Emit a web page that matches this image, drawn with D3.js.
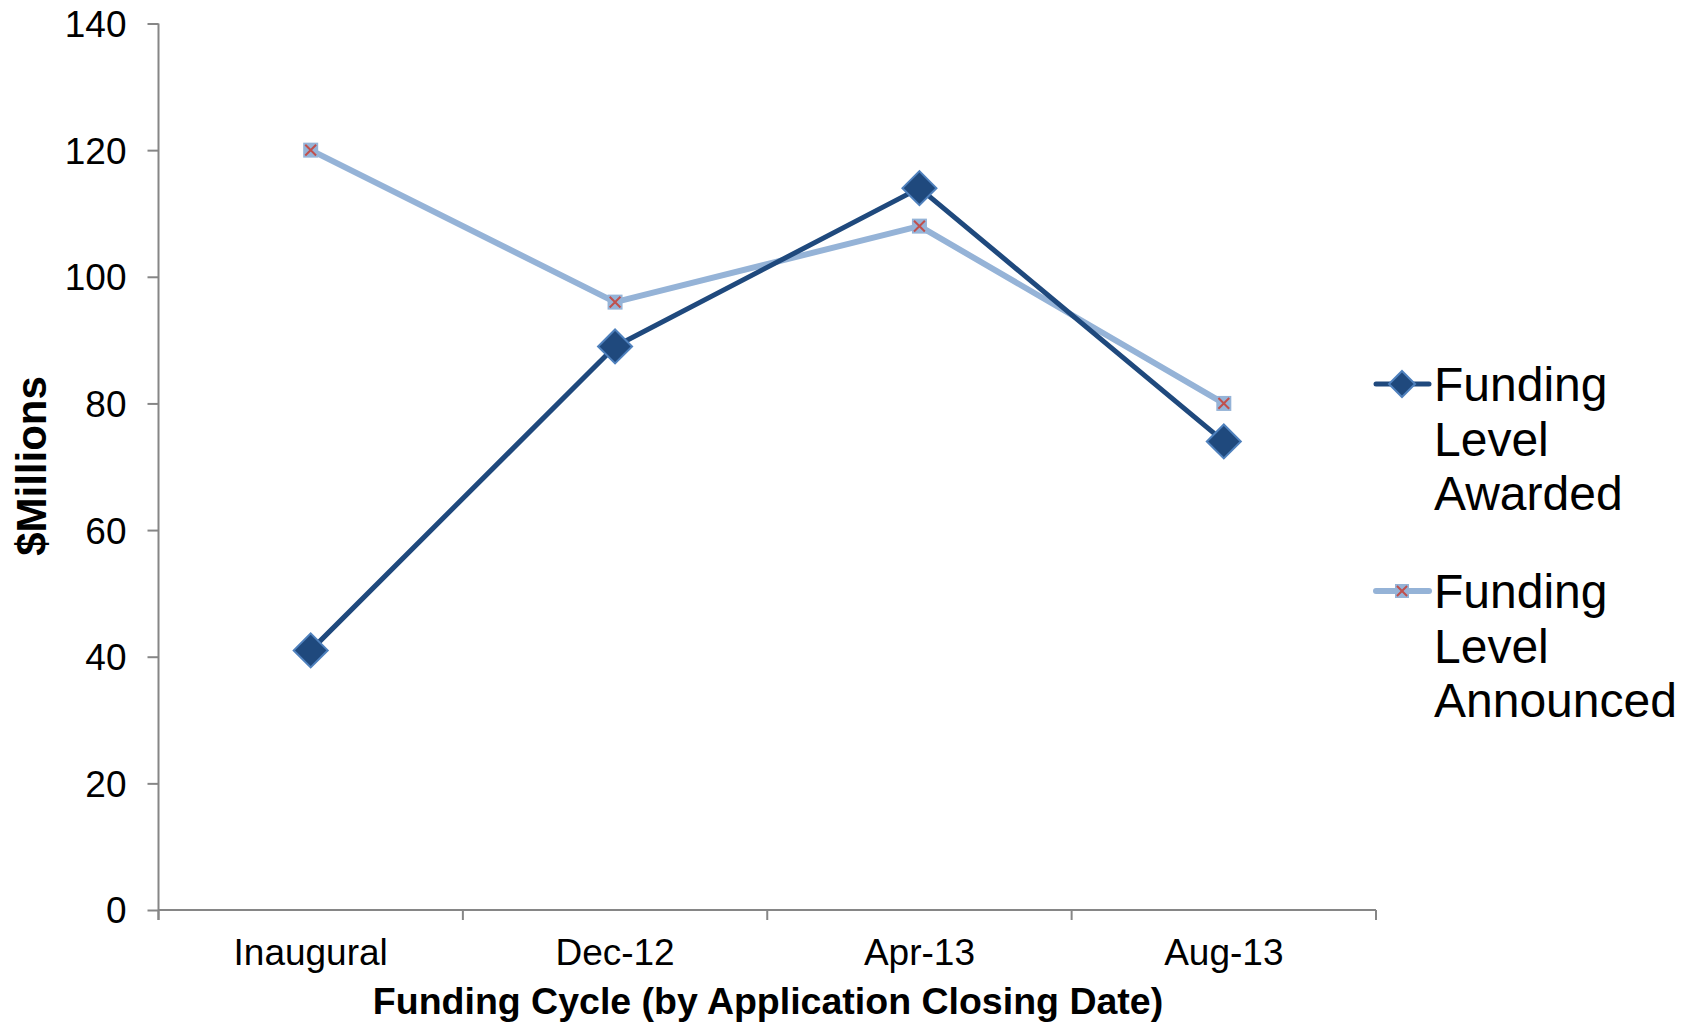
<!DOCTYPE html>
<html>
<head>
<meta charset="utf-8">
<script src="https://cdn.jsdelivr.net/npm/d3@7"></script>
<style>
  body { margin: 0; background: #fff; }
  text { font-family: "Liberation Sans", Arial, sans-serif; fill: #000; }
</style>
</head>
<body>
<div id="chart"></div>
<script>
// data
const cycles = ['Inaugural', 'Dec-12', 'Apr-13', 'Aug-13']
const awarded = [41, 89, 114, 74]
const announced = [120, 96, 108, 80]
const yTicks = [0, 20, 40, 60, 80, 100, 120, 140]
const seriesNames = ['Funding Level Awarded', 'Funding Level Announced']

const width = 1692
const height = 1024
const margin = {left: 158.5, right: 316, top: 23.5, bottom: 114}

const svg = d3.select('#chart').append('svg')
  .attr('width', width)
  .attr('height', height)

const x = d3.scaleBand()
  .domain(cycles)
  .range([margin.left, width - margin.right])

const y = d3.scaleLinear()
  .domain([0, 140])
  .range([height - margin.bottom, margin.top])

const axisColor = '#868686'

// y axis
const yAxis = svg.append('g')
  .attr('transform', `translate(${margin.left},0)`)
  .call(d3.axisLeft(y).tickValues(yTicks).tickSize(11).tickPadding(21))
yAxis.select('.domain').attr('stroke', axisColor).attr('stroke-width', 2)
  .attr('d', `M0,${margin.top}V${y(0) + 10}`)
yAxis.selectAll('.tick line').attr('stroke', axisColor).attr('stroke-width', 2)
yAxis.selectAll('.tick text')
  .style('font-size', '37px')
  .attr('dy', '0.35em')

// x axis, ticks on band boundaries
const xAxis = svg.append('g')
  .attr('transform', `translate(0,${y(0)})`)
xAxis.append('line')
  .attr('x1', margin.left).attr('x2', width - margin.right)
  .attr('stroke', axisColor).attr('stroke-width', 2)
const bounds = cycles.map(c => x(c)).concat([x.range()[1]])
xAxis.selectAll('.bound')
  .data(bounds)
  .enter()
  .append('line')
  .attr('x1', d => d).attr('x2', d => d)
  .attr('y1', 0).attr('y2', 10)
  .attr('stroke', axisColor).attr('stroke-width', 2)
xAxis.selectAll('.lbl')
  .data(cycles)
  .enter()
  .append('text')
  .attr('x', d => x(d) + x.bandwidth() / 2)
  .attr('y', 55)
  .attr('text-anchor', 'middle')
  .style('font-size', '37px')
  .text(d => d)

// axis titles
svg.append('text')
  .attr('x', 768)
  .attr('y', 1014)
  .attr('text-anchor', 'middle')
  .style('font-size', '37.5px')
  .style('font-weight', 'bold')
  .text('Funding Cycle (by Application Closing Date)')

svg.append('text')
  .attr('transform', 'translate(46,466) rotate(-90)')
  .attr('text-anchor', 'middle')
  .style('font-size', '42px')
  .style('font-weight', 'bold')
  .text('$Millions')

const cx = d => x(d) + x.bandwidth() / 2
const line = d3.line()
  .x(d => cx(d.c))
  .y(d => y(d.v))

const awardedPts = cycles.map((c, i) => ({c: c, v: awarded[i]}))
const announcedPts = cycles.map((c, i) => ({c: c, v: announced[i]}))

const navy = '#1F497D'
const lightBlue = '#95B3D7'

// Announced series (drawn first, under awarded)
svg.append('path')
  .datum(announcedPts)
  .attr('d', line)
  .attr('fill', 'none')
  .attr('stroke', lightBlue)
  .attr('stroke-width', 6)
  .attr('stroke-linejoin', 'round')

svg.append('path')
  .datum(awardedPts)
  .attr('d', line)
  .attr('fill', 'none')
  .attr('stroke', navy)
  .attr('stroke-width', 5)
  .attr('stroke-linejoin', 'round')

const drawSquareX = (g, s) => {
  g.append('rect')
    .attr('x', -s / 2).attr('y', -s / 2)
    .attr('width', s).attr('height', s)
    .attr('fill', lightBlue)
  const k = s * 0.36
  g.append('path')
    .attr('d', `M${-k},${-k}L${k},${k}M${-k},${k}L${k},${-k}`)
    .attr('stroke', '#C0504D')
    .attr('stroke-width', 2)
}

const drawDiamond = (g, r) => {
  g.append('path')
    .attr('d', `M0,${-r}L${r},0L0,${r}L${-r},0Z`)
    .attr('fill', navy)
    .attr('stroke', '#4F81BD')
    .attr('stroke-width', 2)
}

svg.selectAll('.mAnn')
  .data(announcedPts)
  .enter()
  .append('g')
  .attr('transform', d => `translate(${cx(d.c)},${y(d.v)})`)
  .each(function () { drawSquareX(d3.select(this), 15) })

svg.selectAll('.mAw')
  .data(awardedPts)
  .enter()
  .append('g')
  .attr('transform', d => `translate(${cx(d.c)},${y(d.v)})`)
  .each(function () { drawDiamond(d3.select(this), 17) })

// legend
const legend = svg.append('g')
const legendItems = [
  {name: seriesNames[0], y: 384, color: navy, w: 5, marker: g => drawDiamond(g, 13)},
  {name: seriesNames[1], y: 591, color: lightBlue, w: 6, marker: g => drawSquareX(g, 14)}
]
legendItems.forEach(item => {
  const g = legend.append('g')
  g.append('line')
    .attr('x1', 1376).attr('x2', 1429)
    .attr('y1', item.y).attr('y2', item.y)
    .attr('stroke', item.color)
    .attr('stroke-width', item.w)
    .attr('stroke-linecap', 'round')
  const m = g.append('g').attr('transform', `translate(1402,${item.y})`)
  item.marker(m)
  const words = item.name.split(' ')
  g.append('text')
    .attr('x', 1434)
    .attr('y', item.y + 17)
    .style('font-size', '48px')
    .selectAll('tspan')
    .data(words)
    .enter()
    .append('tspan')
    .attr('x', 1434)
    .attr('dy', (d, i) => i === 0 ? 0 : 54.5)
    .text(d => d)
})
</script>
</body>
</html>
